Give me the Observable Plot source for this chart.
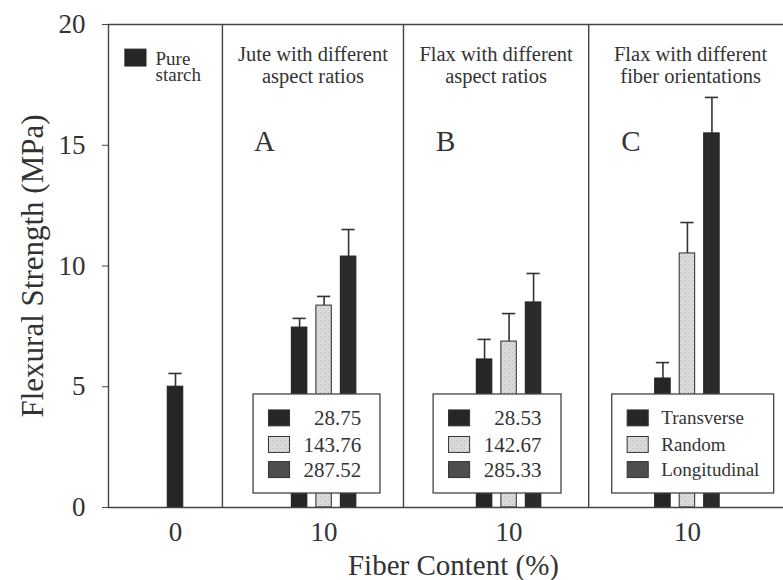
<!DOCTYPE html>
<html><head><meta charset="utf-8">
<script src="https://cdn.jsdelivr.net/npm/d3@7"></script>
<script src="https://cdn.jsdelivr.net/npm/@observablehq/plot@0.6"></script>
<style>
body{margin:0;background:#fff;}
#chart svg{display:block;}
#chart svg, #chart svg text, #chart svg g { font-family: "Liberation Serif", "Times New Roman", Times, serif !important; }
</style></head><body><div id="chart"></div>
<script>
// ---------- data ----------
const fiberContent = ["0", "10", "10", "10"];
const panelTitles = ["", "Jute with different\naspect ratios", "Flax with different\naspect ratios", "Flax with different\nfiber orientations"];
const panelLetters = ["", "A", "B", "C"];
const pureLabel = ["Pure", "starch"];
const pureValues = [5.0];
const pureErrors = [0.55];
const juteRatios = ["28.75", "143.76", "287.52"];
const juteValues = [7.45, 8.36, 10.39];
const juteErrors = [0.38, 0.38, 1.12];
const flaxRatios = ["28.53", "142.67", "285.33"];
const flaxValues = [6.13, 6.87, 8.49];
const flaxErrors = [0.83, 1.16, 1.20];
const orientations = ["Transverse", "Random", "Longitudinal"];
const orientValues = [5.34, 10.52, 15.49];
const orientErrors = [0.66, 1.28, 1.49];
const yTicks = [0, 5, 10, 15, 20];

// ---------- layout (x in units of one bar pitch) ----------
const W = 783, H = 580;
const marginLeft = 108, marginRight = 0, marginTop = 24, marginBottom = 73;
const PITCH = 24.5;
const xMax = (W - marginLeft - marginRight) / PITCH;
const panelEdges = [0, 4.65, 12.04, 19.6, 27.92];
const groupCenters = [2.735, 8.8, 16.35, 23.63];
const barW = 0.63, capHalf = 0.27;
const barFills = ["#262626", "#d7d7d7", "#2b2b2b"];
const swatchFills = ["#262626", "#d2d2d2", "#4e4e4e"];
const ink = "#333";
const lineColor = "#444";

// ---------- tables built from the arrays ----------
const bars = [{g: 0, i: 0, label: "Pure starch", value: pureValues[0], err: pureErrors[0]}];
[[juteRatios, juteValues, juteErrors], [flaxRatios, flaxValues, flaxErrors], [orientations, orientValues, orientErrors]]
  .forEach(([labs, vals, errs], k) => labs.forEach((l, i) => bars.push({g: k + 1, i, label: l, value: vals[i], err: errs[i]})));
bars.forEach(b => {
  b.xc = groupCenters[b.g] + (b.g === 0 ? 0 : b.i - 1);
  b.fill = barFills[b.i];
});

const legendBoxes = [
  {g: 1, l: -2.88, r: 2.3, labels: juteRatios, align: "end"},
  {g: 2, l: -3.08, r: 2.14, labels: flaxRatios, align: "end"},
  {g: 3, l: -3.07, r: 3.54, labels: orientations, align: "start"}
];
const legendTop = 4.68, legendBottom = 0.58;
const rowY = [3.69, 2.59, 1.55];
const legendItems = [];
legendBoxes.forEach(bx => {
  const left = groupCenters[bx.g] + bx.l;
  bx.x1 = left; bx.x2 = groupCenters[bx.g] + bx.r;
  bx.labels.forEach((lab, i) => legendItems.push({
    label: lab, i, y: rowY[i],
    sx1: left + 0.63, sx2: left + 1.49,
    tx: bx.align === "end" ? left + 4.4 : left + 2.0,
    anchor: bx.align
  }));
});

const titleLines = [];
panelTitles.forEach((t, k) => {
  if (!t) return;
  t.split("\n").forEach((line, j) => titleLines.push({text: line, x: (panelEdges[k] + panelEdges[k + 1]) / 2, y: j === 0 ? 18.47 : 17.56}));
});
const letters = panelLetters.map((l, k) => ({text: l, x: panelEdges[k] + 1.72})).filter(d => d.text);
const pureText = pureLabel.map((t, j) => ({text: t, y: j === 0 ? 18.32 : 17.64}));

const serif = "'Liberation Serif', 'Times New Roman', Times, serif";

const chart = Plot.plot({
  width: W, height: H,
  marginLeft, marginRight, marginTop, marginBottom,
  style: {fontFamily: serif, color: ink, background: "white", overflow: "visible"},
  x: {domain: [0, xMax]},
  y: {domain: [0, 20]},
  marks: [
    // bars
    Plot.rectY(bars, {x1: d => d.xc - barW / 2, x2: d => d.xc + barW / 2, y1: 0, y2: "value",
      fill: "fill", stroke: d => d.i === 1 ? "#3a3a3a" : "#222", strokeWidth: 1.1}),
    // error bars (upper only)
    Plot.ruleX(bars, {x: "xc", y1: "value", y2: d => d.value + d.err, stroke: "#333", strokeWidth: 1.6}),
    Plot.ruleY(bars, {y: d => d.value + d.err, x1: d => d.xc - capHalf, x2: d => d.xc + capHalf, stroke: "#333", strokeWidth: 1.6}),
    // legend boxes
    Plot.rect(legendBoxes, {x1: "x1", x2: "x2", y1: legendBottom, y2: legendTop, fill: "white", stroke: lineColor, strokeWidth: 1.3}),
    Plot.rect(legendItems, {x1: "sx1", x2: "sx2", y1: d => d.y - 0.33, y2: d => d.y + 0.33,
      fill: d => swatchFills[d.i], stroke: "#333", strokeWidth: 1}),
    Plot.text(legendItems.filter(d => d.anchor === "end"), {x: "tx", y: "y", text: "label", textAnchor: "end", fontSize: 21, fill: ink}),
    Plot.text(legendItems.filter(d => d.anchor === "start"), {x: "tx", y: "y", text: "label", textAnchor: "start", fontSize: 19, fill: ink}),
    // pure starch legend
    Plot.rect([pureLabel.join(" ")], {x1: 0.69, x2: 1.55, y1: 18.26, y2: 18.96, fill: barFills[0], stroke: "#222"}),
    Plot.text(pureText, {x: 1.92, y: "y", text: "text", textAnchor: "start", lineAnchor: "bottom", fontSize: 19, fill: ink}),
    // panel titles and letters
    Plot.text(titleLines, {x: "x", y: "y", text: "text", lineAnchor: "bottom", fontSize: 20.5, fill: ink}),
    Plot.text(letters, {x: "x", y: 14.78, text: "text", lineAnchor: "bottom", fontSize: 29, fill: ink}),
    // frame: left axis line, separators, top and bottom lines
    Plot.ruleX(panelEdges.slice(0, 4), {y1: 0, y2: 20, stroke: lineColor, strokeWidth: 1.4}),
    Plot.ruleY([0, 20], {stroke: lineColor, strokeWidth: 1.5}),
    // axes
    Plot.axisY({ticks: yTicks, tickSize: 6, tickPadding: 17, fontSize: 27, label: null, stroke: lineColor}),
    Plot.axisX({ticks: groupCenters, tickFormat: d => fiberContent[groupCenters.indexOf(d)], tickSize: 0, tickPadding: 14, fontSize: 27, label: null}),
    Plot.text(["Fiber Content (%)"], {frameAnchor: "bottom", x: 14.08, dy: 67, lineAnchor: "bottom", textAnchor: "middle", fontSize: 29, fill: ink}),
    Plot.text(["Flexural Strength (MPa)"], {frameAnchor: "left", rotate: -90, dx: -66, lineAnchor: "bottom", textAnchor: "middle", fontSize: 31, fill: ink})
  ]
});

// stipple texture for the light grey bars and swatches (styling only)
const svg = d3.select(chart);
const defs = svg.insert("defs", ":first-child");
const pat = defs.append("pattern").attr("id", "stipple").attr("patternUnits", "userSpaceOnUse").attr("width", 4).attr("height", 4);
pat.append("rect").attr("width", 4).attr("height", 4).attr("fill", "#dadada");
pat.append("rect").attr("x", 0).attr("y", 0).attr("width", 1).attr("height", 1).attr("fill", "#b8b8b8");
pat.append("rect").attr("x", 2).attr("y", 2).attr("width", 1).attr("height", 1).attr("fill", "#c4c4c4");
svg.selectAll("rect").filter(function () {
  const f = (this.getAttribute("fill") || "").toLowerCase();
  return f === "#d7d7d7" || f === "#d2d2d2";
}).attr("fill", "url(#stipple)");

document.getElementById("chart").appendChild(chart);
</script>
</body></html>
